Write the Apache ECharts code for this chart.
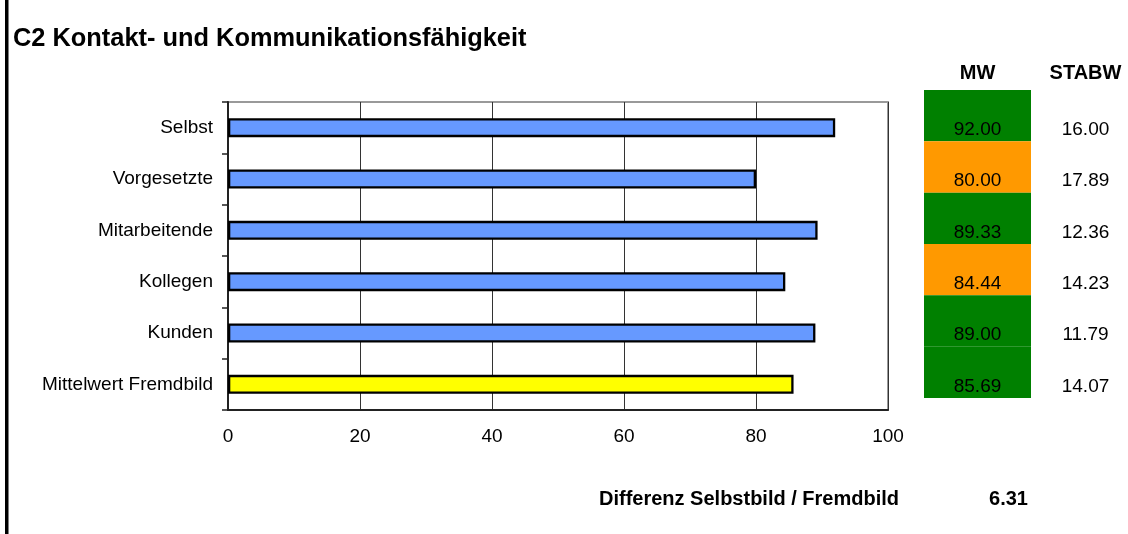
<!DOCTYPE html>
<html>
<head>
<meta charset="utf-8">
<script src="https://cdn.jsdelivr.net/npm/echarts@6/dist/echarts.min.js"></script>
<style>
  html, body { margin: 0; padding: 0; background: #fff; }
  #chart { width: 1128px; height: 534px; }
</style>
</head>
<body>
<div id="chart"></div>
<script>
const titleText = 'C2 Kontakt- und Kommunikationsfähigkeit'
const categories = ['Selbst', 'Vorgesetzte', 'Mitarbeitende', 'Kollegen', 'Kunden', 'Mittelwert Fremdbild']
const mw = [92.0, 80.0, 89.33, 84.44, 89.0, 85.69]
const stabw = [16.0, 17.89, 12.36, 14.23, 11.79, 14.07]
const differenz = 6.31
const threshold = 85

const font = "'Liberation Sans', Arial, sans-serif"
const chart = echarts.init(document.getElementById('chart'))

const textEl = (text, x, y, size, bold, align) => ({
  type: 'text',
  x: x,
  y: y,
  style: {
    text: text,
    font: (bold ? 'bold ' : '') + size + 'px ' + font,
    fill: '#000',
    align: align,
    textAlign: align,
    verticalAlign: 'middle',
    textVerticalAlign: 'middle'
  }
})

chart.setOption({
  animation: false,
  graphic: [
    { type: 'rect', shape: { x: 5, y: 0, width: 3.5, height: 534 }, style: { fill: '#000' } },
    textEl(titleText, 13, 39, 25.4, true, 'left'),
    textEl('MW', 977.5, 73, 20, true, 'center'),
    textEl('STABW', 1085.5, 73, 20, true, 'center'),
    textEl('Differenz Selbstbild / Fremdbild', 599, 499, 20, true, 'left'),
    textEl(differenz.toFixed(2), 1008.5, 499, 20, true, 'center')
  ],
  grid: [
    { left: 228, width: 660, top: 102, height: 308, show: true, borderColor: '#999', borderWidth: 2, outerBoundsMode: 'none' },
    { left: 924, width: 107, top: 90, height: 308, outerBoundsMode: 'none' },
    { left: 1040, width: 91, top: 90, height: 308, outerBoundsMode: 'none' }
  ],
  xAxis: [
    {
      gridIndex: 0,
      type: 'value',
      min: 0,
      max: 100,
      interval: 20,
      axisLine: { show: true, lineStyle: { color: '#222', width: 2 } },
      axisTick: { show: false },
      axisLabel: { color: '#000', fontSize: 19, fontFamily: font, margin: 17 },
      splitLine: { show: true, lineStyle: { color: '#333', width: 1 } }
    },
    { gridIndex: 1, type: 'value', min: 0, max: 1, show: false },
    { gridIndex: 2, type: 'value', min: 0, max: 1, show: false }
  ],
  yAxis: [
    {
      gridIndex: 0,
      type: 'category',
      inverse: true,
      data: categories,
      axisLine: { show: true, lineStyle: { color: '#222', width: 2 } },
      axisTick: { show: true, length: 6, lineStyle: { color: '#222', width: 1.5 } },
      axisLabel: { color: '#000', fontSize: 19, fontFamily: font, margin: 15 }
    },
    { gridIndex: 1, type: 'category', inverse: true, data: categories, show: false },
    { gridIndex: 2, type: 'category', inverse: true, data: categories, show: false }
  ],
  series: [
    {
      type: 'bar',
      xAxisIndex: 0,
      yAxisIndex: 0,
      barWidth: 19,
      data: mw.map((v, i) => ({
        value: v,
        itemStyle: { color: i === mw.length - 1 ? '#ffff00' : '#6699ff' }
      })),
      itemStyle: { borderColor: '#000', borderWidth: 2.3 }
    },
    {
      type: 'bar',
      xAxisIndex: 1,
      yAxisIndex: 1,
      barWidth: '100%',
      barCategoryGap: 0,
      data: mw.map(v => ({
        value: 1,
        itemStyle: { color: v >= threshold ? '#008000' : '#ff9900' }
      })),
      label: {
        show: true,
        position: 'inside',
        offset: [0, 14],
        color: '#000',
        fontSize: 19,
        fontFamily: font,
        formatter: p => mw[p.dataIndex].toFixed(2)
      }
    },
    {
      type: 'bar',
      xAxisIndex: 2,
      yAxisIndex: 2,
      barWidth: '100%',
      barCategoryGap: 0,
      data: stabw.map(() => 1),
      itemStyle: { color: 'rgba(0,0,0,0)' },
      label: {
        show: true,
        position: 'inside',
        offset: [0, 14],
        color: '#000',
        fontSize: 19,
        fontFamily: font,
        formatter: p => stabw[p.dataIndex].toFixed(2)
      }
    }
  ]
})
</script>
</body>
</html>
